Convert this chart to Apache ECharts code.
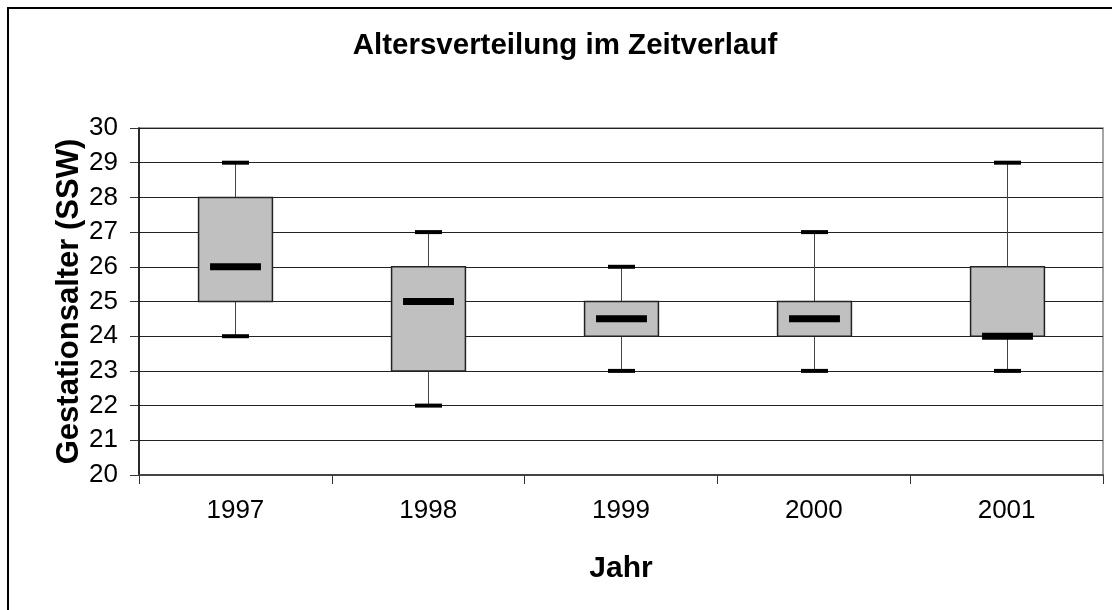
<!DOCTYPE html>
<html>
<head>
<meta charset="utf-8">
<script src="https://cdn.jsdelivr.net/npm/echarts@6/dist/echarts.min.js"></script>
<style>
  html, body { margin: 0; padding: 0; background: #fff; }
  #chart { width: 1112px; height: 610px; }
</style>
</head>
<body>
<div id="chart"></div>
<script>
var years = ['1997', '1998', '1999', '2000', '2001'];
var minVals = [24, 22, 23, 23, 23];
var q1Vals = [25, 23, 24, 24, 24];
var medianVals = [26, 25, 24.5, 24.5, 24];
var q3Vals = [28, 26, 25, 25, 26];
var maxVals = [29, 27, 26, 27, 29];
var yTicks = [20, 21, 22, 23, 24, 25, 26, 27, 28, 29, 30];

var font = "'Liberation Sans', Arial, sans-serif";

var rows = years.map(function (y, i) {
	return [i, minVals[i], q1Vals[i], medianVals[i], q3Vals[i], maxVals[i]];
});

// box, whiskers, short caps and a thick median bar, all from axis coords
function renderBox(params, api) {
	var x = api.value(0);
	var lo = api.coord([x, api.value(1)]);
	var q1 = api.coord([x, api.value(2)]);
	var med = api.coord([x, api.value(3)]);
	var q3 = api.coord([x, api.value(4)]);
	var hi = api.coord([x, api.value(5)]);
	var band = api.size([1, 0])[0];
	var bw = band * 0.383, cw = band * 0.14, mw = band * 0.264;
	var cx = Math.round(lo[0]) + 0.5;
	var wStyle = { stroke: '#444', lineWidth: 1 };
	return {
		type: 'group',
		children: [
			{ type: 'line', shape: { x1: cx, y1: hi[1], x2: cx, y2: q3[1] }, style: wStyle },
			{ type: 'line', shape: { x1: cx, y1: q1[1], x2: cx, y2: lo[1] }, style: wStyle },
			{ type: 'rect', shape: { x: cx - bw / 2, y: q3[1], width: bw, height: q1[1] - q3[1] },
				style: { fill: '#c0c0c0', stroke: '#222', lineWidth: 1.5 } },
			{ type: 'rect', shape: { x: cx - mw / 2, y: med[1] - 3.5, width: mw, height: 7 }, style: { fill: '#000' } },
			{ type: 'rect', shape: { x: cx - cw / 2, y: hi[1] - 2, width: cw, height: 4 }, style: { fill: '#000' } },
			{ type: 'rect', shape: { x: cx - cw / 2, y: lo[1] - 2, width: cw, height: 4 }, style: { fill: '#000' } }
		]
	};
}

var chart = echarts.init(document.getElementById('chart'));
chart.setOption({
	animation: false,
	backgroundColor: '#fff',
	title: {
		text: 'Altersverteilung im Zeitverlauf',
		left: 560,
		top: 26,
		textAlign: 'center',
		textStyle: { fontFamily: font, fontSize: 29.5, fontWeight: 'bold', color: '#000' }
	},
	graphic: [{
		type: 'rect',
		shape: { x: 8, y: 8, width: 1200, height: 700 },
		style: { fill: 'none', stroke: '#000', lineWidth: 2 },
		silent: true
	}],
	grid: {
		left: 139,
		right: 9,
		top: 128,
		bottom: 135,
		show: true,
		borderColor: '#888',
		borderWidth: 1.5,
		backgroundColor: '#fff'
	},
	xAxis: {
		type: 'category',
		data: years,
		boundaryGap: true,
		name: 'Jahr',
		nameLocation: 'middle',
		nameGap: 79,
		nameMoveOverlap: false,
		nameTextStyle: { fontFamily: font, fontSize: 30, fontWeight: 'bold', color: '#000' },
		axisLine: { lineStyle: { color: '#444', width: 2 } },
		axisTick: { show: true, length: 9, lineStyle: { color: '#333' } },
		axisLabel: { fontFamily: font, fontSize: 26, color: '#000', margin: 23 },
		splitLine: { show: false }
	},
	yAxis: {
		type: 'value',
		min: yTicks[0],
		max: yTicks[yTicks.length - 1],
		interval: 1,
		name: 'Gestationsalter (SSW)',
		nameLocation: 'middle',
		nameGap: 54,
		nameMoveOverlap: false,
		nameTextStyle: { fontFamily: font, fontSize: 31, fontWeight: 'bold', color: '#000' },
		axisLine: { show: true, lineStyle: { color: '#000', width: 1.5 } },
		axisTick: { show: true, length: 9, lineStyle: { color: '#333' } },
		axisLabel: { fontFamily: font, fontSize: 26, color: '#000', margin: 21 },
		splitLine: { show: true, lineStyle: { color: '#222', width: 1 } }
	},
	series: [{
		type: 'custom',
		renderItem: renderBox,
		encode: { x: 0, y: [1, 2, 3, 4, 5] },
		data: rows,
		z: 5
	}]
});
</script>
</body>
</html>
